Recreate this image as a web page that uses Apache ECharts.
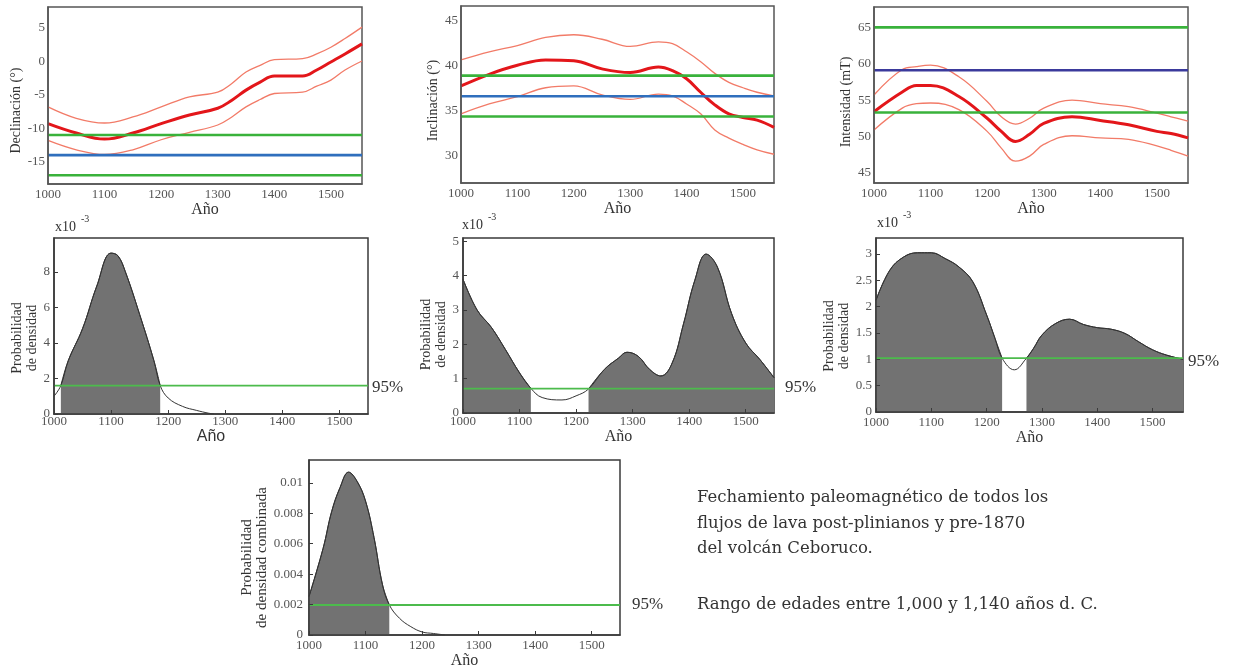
<!DOCTYPE html>
<html>
<head>
<meta charset="utf-8">
<title>Fechamiento paleomagnético - Ceboruco</title>
<script src="https://cdn.jsdelivr.net/npm/echarts@6/dist/echarts.min.js"></script>
<style>
  html, body { margin: 0; padding: 0; background: #fff; }
  #chart { width: 1233px; height: 670px; }
</style>
</head>
<body>
<div id="chart"></div>
<script>
// ---- values ----
const xTicks = [1000, 1100, 1200, 1300, 1400, 1500];

// declinación (°)
const decYears = [1000, 1050, 1100, 1150, 1200, 1250, 1300, 1325, 1350, 1375, 1400, 1450, 1475, 1500, 1525, 1555];
const decMean  = [-9.3, -10.7, -11.6, -10.7, -9.3, -8.0, -7.0, -5.8, -4.3, -3.1, -2.2, -2.2, -1.3, -0.1, 1.1, 2.6];
const decUpper = [-6.8, -8.5, -9.2, -8.3, -6.8, -5.3, -4.6, -3.3, -1.6, -0.6, 0.25, 0.4, 1.1, 2.1, 3.4, 5.1];
const decLower = [-11.8, -13.2, -13.9, -13.2, -11.7, -10.6, -9.5, -8.3, -6.8, -5.7, -4.8, -4.6, -3.7, -2.8, -1.3, 0.05];
const decSite = -14.0;
const decBounds = [-11.0, -17.0];
const decTicks = [-15, -10, -5, 0, 5];

// inclinación (°)
const incYears = [1000, 1050, 1100, 1150, 1200, 1250, 1300, 1350, 1375, 1400, 1425, 1450, 1475, 1500, 1525, 1555];
const incMean  = [37.7, 39.0, 40.0, 40.6, 40.5, 39.6, 39.2, 39.8, 39.4, 38.5, 37.0, 35.6, 34.6, 34.2, 33.9, 33.1];
const incUpper = [40.6, 41.5, 42.2, 43.1, 43.4, 42.9, 42.1, 42.6, 42.4, 41.5, 40.4, 39.1, 38.1, 37.5, 37.0, 36.6];
const incLower = [34.6, 35.7, 36.5, 37.5, 37.7, 36.7, 36.2, 36.8, 36.6, 35.7, 34.6, 32.8, 31.9, 31.2, 30.6, 30.1];
const incSite = 36.55;
const incBounds = [38.85, 34.3];
const incTicks = [30, 35, 40, 45];

// intensidad (mT)
const intYears = [1000, 1050, 1075, 1100, 1150, 1200, 1225, 1250, 1275, 1300, 1350, 1400, 1450, 1500, 1525, 1555];
const intMean  = [53.4, 56.1, 57.0, 57.0, 55.5, 52.5, 50.7, 49.3, 50.3, 51.8, 52.7, 52.2, 51.6, 50.7, 50.4, 49.8];
const intUpper = [55.7, 59.2, 59.6, 59.8, 58.2, 54.8, 52.7, 51.7, 52.5, 53.9, 55.0, 54.5, 54.1, 53.2, 52.7, 52.1];
const intLower = [50.9, 53.9, 54.5, 54.6, 53.7, 50.7, 48.4, 46.6, 47.3, 48.9, 50.1, 49.8, 49.6, 48.7, 48.1, 47.3];
const intSite = 59.1;
const intBounds = [65.0, 53.3];
const intTicks = [45, 50, 55, 60, 65];

// densidades de probabilidad (x10^-3 en los tres paneles del medio)
const pdDecYears = [1000, 1012, 1025, 1050, 1075, 1100, 1112, 1125, 1150, 1175, 1186, 1200, 1225, 1250, 1270, 1280];
const pdDec      = [1.0, 1.6, 3.0, 4.8, 7.2, 9.05, 8.9, 8.0, 5.6, 3.0, 1.6, 0.9, 0.43, 0.2, 0.05, 0.0];
const pdDecLimit = 1.6;
const pdDecRanges = [[1012, 1186]];
const pdDecTicks = [0, 2, 4, 6, 8];

const pdIncYears = [1000, 1025, 1050, 1075, 1100, 1120, 1140, 1175, 1200, 1222, 1250, 1275, 1290, 1310, 1330, 1350, 1370, 1390, 1410, 1430, 1450, 1475, 1500, 1525, 1550];
const pdInc      = [3.9, 3.0, 2.5, 1.85, 1.17, 0.72, 0.45, 0.38, 0.5, 0.7, 1.27, 1.6, 1.77, 1.65, 1.27, 1.08, 1.46, 2.6, 3.87, 4.63, 4.25, 2.9, 2.04, 1.56, 1.03];
const pdIncLimit = 0.71;
const pdIncRanges = [[1000, 1120], [1222, 1550]];
const pdIncTicks = [0, 1, 2, 3, 4, 5];

const pdIntYears = [1000, 1025, 1050, 1075, 1100, 1125, 1150, 1175, 1200, 1215, 1228, 1250, 1272, 1285, 1300, 1325, 1350, 1375, 1400, 1425, 1450, 1475, 1500, 1525, 1555];
const pdInt      = [2.12, 2.69, 2.94, 3.02, 3.02, 2.91, 2.75, 2.47, 1.84, 1.40, 1.02, 0.8, 1.02, 1.21, 1.46, 1.68, 1.76, 1.66, 1.6, 1.57, 1.49, 1.33, 1.18, 1.08, 1.0];
const pdIntLimit = 1.02;
const pdIntRanges = [[1000, 1228], [1272, 1555]];
const pdIntTicks = [0, 0.5, 1, 1.5, 2, 2.5, 3];

const pdAllYears = [1000, 1025, 1040, 1055, 1070, 1085, 1100, 1115, 1130, 1142, 1160, 1180, 1200, 1220, 1240];
const pdAll      = [0.00253, 0.0057, 0.0081, 0.0097, 0.0107, 0.0101, 0.0088, 0.0064, 0.0033, 0.00198, 0.0011, 0.00055, 0.0002, 0.0001, 0];
const pdAllLimit = 0.00197;
const pdAllRanges = [[1000, 1142]];
const pdAllTicks = [0, 0.002, 0.004, 0.006, 0.008, 0.01];

const noteLines = [
  'Fechamiento paleomagnético de todos los',
  'flujos de lava post-plinianos y pre-1870',
  'del volcán Ceboruco.'
];
const rangeNote = 'Rango de edades entre 1,000 y 1,140 años d. C.';

// ---- chart ----
const serif = 'Liberation Serif';
const grids = [], xAxes = [], yAxes = [], series = [], graphics = [];

const zip = (xs, ys) => xs.map((x, i) => [x, ys[i]]);

function addPanel(p) {
  const i = grids.length;
  const edge = p.ticks ? '#3a3a3a' : '#555';
  grids.push({
    left: p.box[0], top: p.box[1], width: p.box[2], height: p.box[3],
    show: true, borderColor: edge, borderWidth: 1.5
  });
  xAxes.push({
    gridIndex: i, type: 'value', min: p.xMin, max: p.xMax, z: 5,
    name: 'Año', nameLocation: 'middle', nameGap: p.xNameGap,
    nameTextStyle: { fontFamily: p.xNameFont || serif, fontSize: 16, color: '#333' },
    axisLine: { show: true, onZero: false, lineStyle: { color: edge, width: 1.5 } },
    axisTick: { show: p.ticks, inside: true, length: 4, customValues: xTicks, lineStyle: { color: edge } },
    axisLabel: { customValues: xTicks, formatter: v => String(v), margin: p.xLabelMargin, fontFamily: serif, fontSize: 13, color: '#555' },
    splitLine: { show: false }
  });
  yAxes.push({
    gridIndex: i, type: 'value', min: p.yMin, max: p.yMax, z: 5,
    name: p.yName, nameLocation: 'middle', nameGap: p.yNameGap,
    // right padding pushes the rotated name a little down, as in the figure
    nameTextStyle: { fontFamily: serif, fontSize: p.yNameSize || 14, lineHeight: p.yNameLine || 15, color: '#333',
      padding: [0, p.yNameShift * 2, 0, 0] },
    axisLine: { show: true, onZero: false, lineStyle: { color: edge, width: 1.5 } },
    axisTick: { show: p.ticks, inside: true, length: 4, customValues: p.yTicks, lineStyle: { color: edge } },
    axisLabel: { customValues: p.yTicks, formatter: v => String(v), margin: p.yLabelMargin, fontFamily: serif, fontSize: 13, color: '#555' },
    splitLine: { show: false }
  });
  return i;
}

// horizontal reference line across the whole panel
function refLine(i, p, value, color, width) {
  series.push({
    type: 'line', xAxisIndex: i, yAxisIndex: i, symbol: 'none', silent: true,
    data: [[p.xMin, value], [p.xMax, value]],
    lineStyle: { color: color, width: width }
  });
}

function curve(i, data, color, width) {
  series.push({
    type: 'line', xAxisIndex: i, yAxisIndex: i, data: data, smooth: 0.4,
    symbol: 'none', silent: true, lineStyle: { color: color, width: width }
  });
}

function magPanel(p, years, mean, upper, lower, site, bounds, siteColor) {
  const i = addPanel(p);
  curve(i, zip(years, upper), '#f27b68', 1.3);
  curve(i, zip(years, lower), '#f27b68', 1.3);
  curve(i, zip(years, mean), '#e3161a', 3);
  refLine(i, p, bounds[0], '#39b23b', 2.6);
  refLine(i, p, bounds[1], '#39b23b', 2.6);
  refLine(i, p, site, siteColor, 2.6);
}

function densityPanel(p, years, dens, limit, ranges) {
  const i = addPanel(p);
  const pts = zip(years, dens);
  ranges.forEach(r => {
    series.push({
      type: 'line', xAxisIndex: i, yAxisIndex: i, smooth: 0.4, symbol: 'none', silent: true,
      data: pts.filter(d => d[0] >= r[0] && d[0] <= r[1]),
      lineStyle: { color: '#333', width: 1 },
      areaStyle: { color: '#727272', opacity: 1 }
    });
  });
  curve(i, pts, '#333', 1);
  refLine(i, p, limit, '#4cbb4c', 1.8);
}

function addText(text, x, y, font, align) {
  graphics.push({
    type: 'text', x: x, y: y, silent: true,
    style: { text: text, font: font, fill: '#333', align: align || 'left', verticalAlign: 'middle' }
  });
}

magPanel({ box: [48, 7, 314, 177], xMin: 1000, xMax: 1555, yMin: -18.3, yMax: 8.1, yTicks: decTicks,
  yName: 'Declinación (°)', yNameGap: 17, yNameShift: 15, xNameGap: 17, xLabelMargin: 4, yLabelMargin: 3, ticks: false },
  decYears, decMean, decUpper, decLower, decSite, decBounds, '#2f6fbd');

magPanel({ box: [461, 6, 313, 177], xMin: 1000, xMax: 1555, yMin: 26.9, yMax: 46.6, yTicks: incTicks,
  yName: 'Inclinación (°)', yNameGap: 15, yNameShift: 6, xNameGap: 17, xLabelMargin: 4, yLabelMargin: 3, ticks: false },
  incYears, incMean, incUpper, incLower, incSite, incBounds, '#2f6fbd');

magPanel({ box: [874, 7, 314, 176], xMin: 1000, xMax: 1555, yMin: 43.6, yMax: 67.8, yTicks: intTicks,
  yName: 'Intensidad (mT)', yNameGap: 16, yNameShift: 7, xNameGap: 17, xLabelMargin: 4, yLabelMargin: 3, ticks: false },
  intYears, intMean, intUpper, intLower, intSite, intBounds, '#3b3a9c');

densityPanel({ box: [54, 238, 314, 176], xMin: 1000, xMax: 1550, yMin: 0, yMax: 9.9, yTicks: pdDecTicks,
  yName: 'Probabilidad\nde densidad', yNameGap: 12, yNameShift: 12, xNameGap: 13, xNameFont: 'Liberation Sans',
  xLabelMargin: 1, yLabelMargin: 4, ticks: true },
  pdDecYears, pdDec, pdDecLimit, pdDecRanges);

densityPanel({ box: [463, 238, 311, 175], xMin: 1000, xMax: 1550, yMin: 0, yMax: 5.1, yTicks: pdIncTicks,
  yName: 'Probabilidad\nde densidad', yNameGap: 12, yNameShift: 9, xNameGap: 16,
  xLabelMargin: 2, yLabelMargin: 4, ticks: true },
  pdIncYears, pdInc, pdIncLimit, pdIncRanges);

densityPanel({ box: [876, 238, 307, 174], xMin: 1000, xMax: 1555, yMin: 0, yMax: 3.3, yTicks: pdIntTicks,
  yName: 'Probabilidad\nde densidad', yNameGap: 14, yNameShift: 11, xNameGap: 17,
  xLabelMargin: 4, yLabelMargin: 4, ticks: true },
  pdIntYears, pdInt, pdIntLimit, pdIntRanges);

densityPanel({ box: [309, 460, 311, 175], xMin: 1000, xMax: 1550, yMin: 0, yMax: 0.0115, yTicks: pdAllTicks,
  yName: 'Probabilidad\nde densidad combinada', yNameGap: 36, yNameShift: 10, yNameSize: 15, yNameLine: 15, xNameGap: 15,
  xLabelMargin: 4, yLabelMargin: 6, ticks: true },
  pdAllYears, pdAll, pdAllLimit, pdAllRanges);

// factor de escala x10^-3
[[55, 227], [462, 225], [877, 223]].forEach(pos => {
  addText('x10', pos[0], pos[1], '14px "Liberation Serif"');
  addText('-3', pos[0] + 26, pos[1] - 8, '10px "Liberation Serif"');
});

// etiquetas 95%
addText('95%', 372, 388, '17px "Liberation Serif"');
addText('95%', 785, 388, '17px "Liberation Serif"');
addText('95%', 1188, 362, '17px "Liberation Serif"');
addText('95%', 632, 605, '17px "Liberation Serif"');

// nota
noteLines.forEach((t, k) => addText(t, 697, 498 + k * 25.5, '16.5px "DejaVu Serif"'));
addText(rangeNote, 697, 605, '16.5px "DejaVu Serif"');

const chart = echarts.init(document.getElementById('chart'));
chart.setOption({
  animation: false,
  backgroundColor: '#fff',
  grid: grids,
  xAxis: xAxes,
  yAxis: yAxes,
  series: series,
  graphic: graphics
});
window.addEventListener('resize', () => chart.resize());
</script>
</body>
</html>
